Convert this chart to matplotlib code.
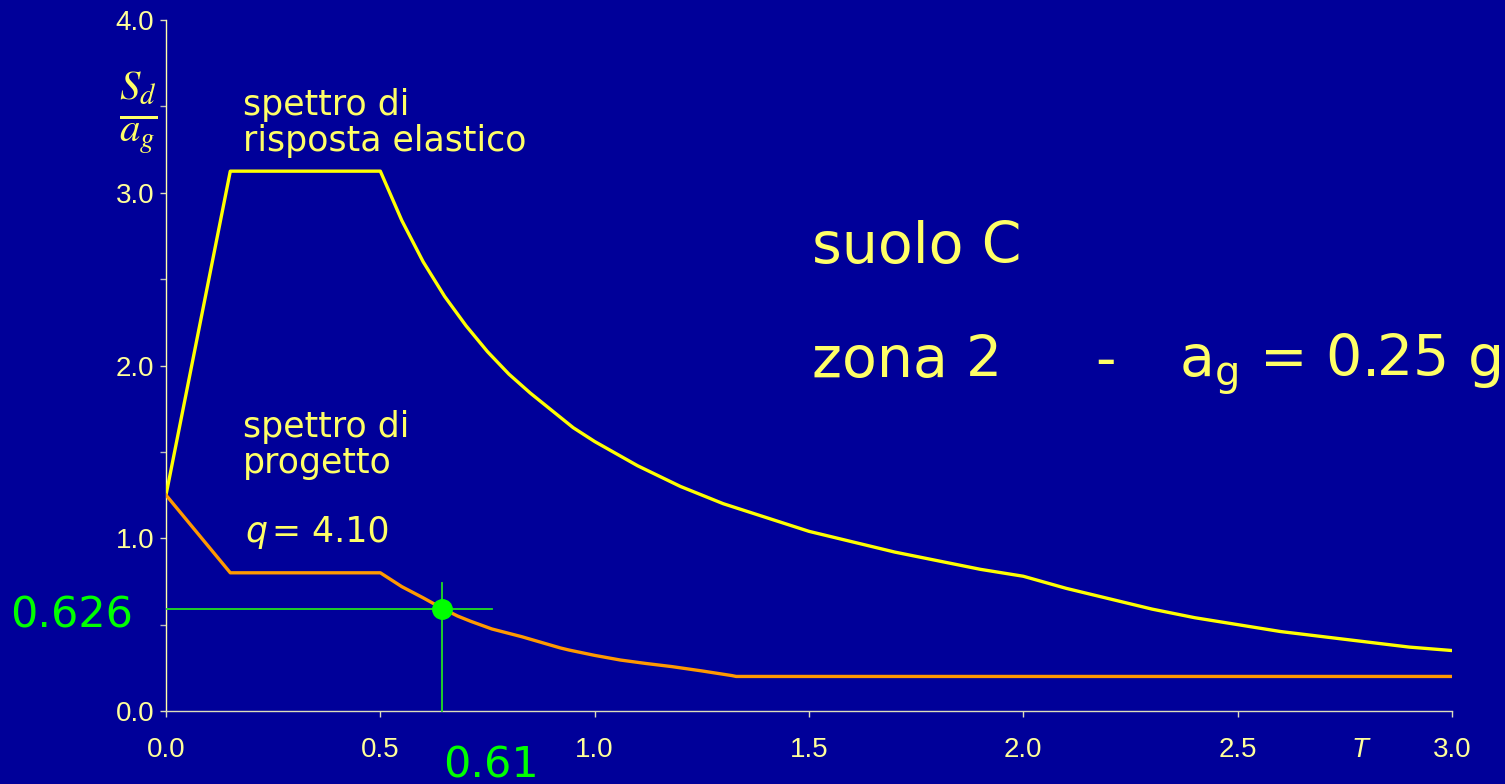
import matplotlib
matplotlib.use("Agg")
import matplotlib.pyplot as plt
from matplotlib.ticker import MultipleLocator

# ---- data ----
T_elastic = [0.0, 0.15, 0.50, 0.55, 0.60, 0.65, 0.70, 0.75, 0.80, 0.85, 0.90,
             0.95, 1.00, 1.05, 1.10, 1.15, 1.20, 1.25, 1.30, 1.35, 1.40, 1.45,
             1.50, 1.60, 1.70, 1.80, 1.90, 2.00,
             2.10, 2.20, 2.30, 2.40, 2.50, 2.60, 2.70, 2.80, 2.90, 3.00]
S_elastic = [1.25, 3.125, 3.125, 2.84, 2.60, 2.40, 2.23, 2.08, 1.95, 1.84, 1.74,
             1.64, 1.56, 1.49, 1.42, 1.36, 1.30, 1.25, 1.20, 1.16, 1.12, 1.08,
             1.04, 0.98, 0.92, 0.87, 0.82, 0.78,
             0.71, 0.65, 0.59, 0.54, 0.50, 0.46, 0.43, 0.40, 0.37, 0.35]

T_design = [0.0, 0.15, 0.50, 0.55, 0.60, 0.64, 0.68, 0.71, 0.76, 0.83, 0.92,
            0.94, 1.00, 1.06, 1.12, 1.18, 1.25, 1.32, 1.33, 3.00]
S_design = [1.25, 0.80, 0.80, 0.72, 0.655, 0.60, 0.55, 0.52, 0.475, 0.43, 0.365,
            0.353, 0.322, 0.295, 0.275, 0.257, 0.232, 0.205, 0.20, 0.20]

T_point = 0.643
S_point = 0.59
T_hline_end = 0.76
S_vline_top = 0.74

x_ticks = [0.0, 0.5, 1.0, 1.5, 2.0, 2.5, 3.0]
x_ticklabels = ["0.0", "0.5", "1.0", "1.5", "2.0", "2.5", "3.0"]
y_ticks = [0.0, 1.0, 2.0, 3.0, 4.0]
y_ticklabels = ["0.0", "1.0", "2.0", "3.0", "4.0"]

# ---- style ----
BG = "#000099"
TXT = "#FFFF66"
TICK = "#FFFF99"
YEL = "#FFFF00"
ORA = "#FF9900"
GRN = "#00FF00"

W, H = 1505, 784
fig = plt.figure(figsize=(W / 100, H / 100), dpi=100, facecolor=BG)
ax = fig.add_axes([166 / W, 1 - 711 / H, (1452 - 166) / W, (711 - 20) / H])
ax.set_facecolor(BG)

ax.plot(T_elastic, S_elastic, color=YEL, lw=2.4, solid_joinstyle="round", zorder=3)
ax.plot(T_design, S_design, color=ORA, lw=2.4, solid_joinstyle="round", zorder=3)

ax.plot([0, T_hline_end], [S_point, S_point], color="#22DD22", lw=1.3, zorder=4)
ax.plot([T_point, T_point], [0, S_vline_top], color="#22DD22", lw=1.3, zorder=4,
        clip_on=False)
ax.plot([T_point], [S_point], "o", color=GRN, ms=14, mec=GRN, zorder=5)

ax.set_xlim(0, 3.0)
ax.set_ylim(0, 4.0)
ax.set_xticks(x_ticks)
ax.set_xticklabels(x_ticklabels)
ax.set_yticks(y_ticks)
ax.set_yticklabels(y_ticklabels)
ax.yaxis.set_minor_locator(MultipleLocator(0.5))

for s in ["top", "right"]:
    ax.spines[s].set_visible(False)
ax.spines["left"].set_color("#FFFFAA")
ax.spines["bottom"].set_color("#DDDDBB")
ax.spines["left"].set_linewidth(1.0)
ax.spines["bottom"].set_linewidth(1.0)

ax.tick_params(axis="x", direction="out", length=4.5, width=1, color="#DDDDBB",
               labelcolor=TICK, labelsize=20, pad=14)
ax.tick_params(axis="y", which="major", direction="out", length=4.5, width=1,
               color="#DDDDBB", labelcolor=TICK, labelsize=20, pad=4)
ax.tick_params(axis="y", which="minor", direction="out", length=4.5, width=1,
               color="#BBBBBB")
for lab in ax.get_xticklabels() + ax.get_yticklabels():
    lab.set_fontfamily("Liberation Sans")

def fx(px):
    return px / W

def fy(py):
    return 1 - py / H

CF = "DejaVu Sans"

# y-axis label fraction
fig.text(fx(138), fy(113), r"$\frac{S_d}{a_g}$", color=TXT, fontsize=42,
         ha="center", va="center", math_fontfamily="stix")

# x-axis "T"
fig.text(fx(1360), fy(757), "T", color=TICK, fontsize=20, style="italic",
         family="Liberation Sans", ha="center", va="baseline")

# curve labels
fig.text(fx(243), fy(115), "spettro di", color=TXT, fontsize=25, family=CF, va="baseline")
fig.text(fx(243), fy(151), "risposta elastico", color=TXT, fontsize=25, family=CF, va="baseline")
fig.text(fx(243), fy(437), "spettro di", color=TXT, fontsize=25, family=CF, va="baseline")
fig.text(fx(243), fy(473), "progetto", color=TXT, fontsize=25, family=CF, va="baseline")
fig.text(fx(245), fy(542), "q", color=TXT, fontsize=25, family=CF, style="italic", va="baseline")
fig.text(fx(272), fy(542), "= 4.10", color=TXT, fontsize=25, family=CF, va="baseline")

# big annotation
fig.text(fx(812), fy(263), "suolo C", color=TXT, fontsize=41, family=CF, va="baseline")
fig.text(fx(812), fy(377), "zona 2", color=TXT, fontsize=41, family=CF, va="baseline")
fig.text(fx(1105), fy(377), "-", color=TXT, fontsize=41, family=CF, va="baseline", ha="center")
fig.text(fx(1500), fy(377), r"a$_\mathregular{g}$ = 0.25 g", color=TXT, fontsize=41,
         family=CF, va="baseline", ha="right", math_fontfamily="dejavusans")

# green values
fig.text(fx(10), fy(627), "0.626", color=GRN, fontsize=31, family=CF, va="baseline")
fig.text(fx(443), fy(778), "0.61", color=GRN, fontsize=31, family=CF, va="baseline")

fig.savefig("out.png", dpi=100, facecolor=BG)
